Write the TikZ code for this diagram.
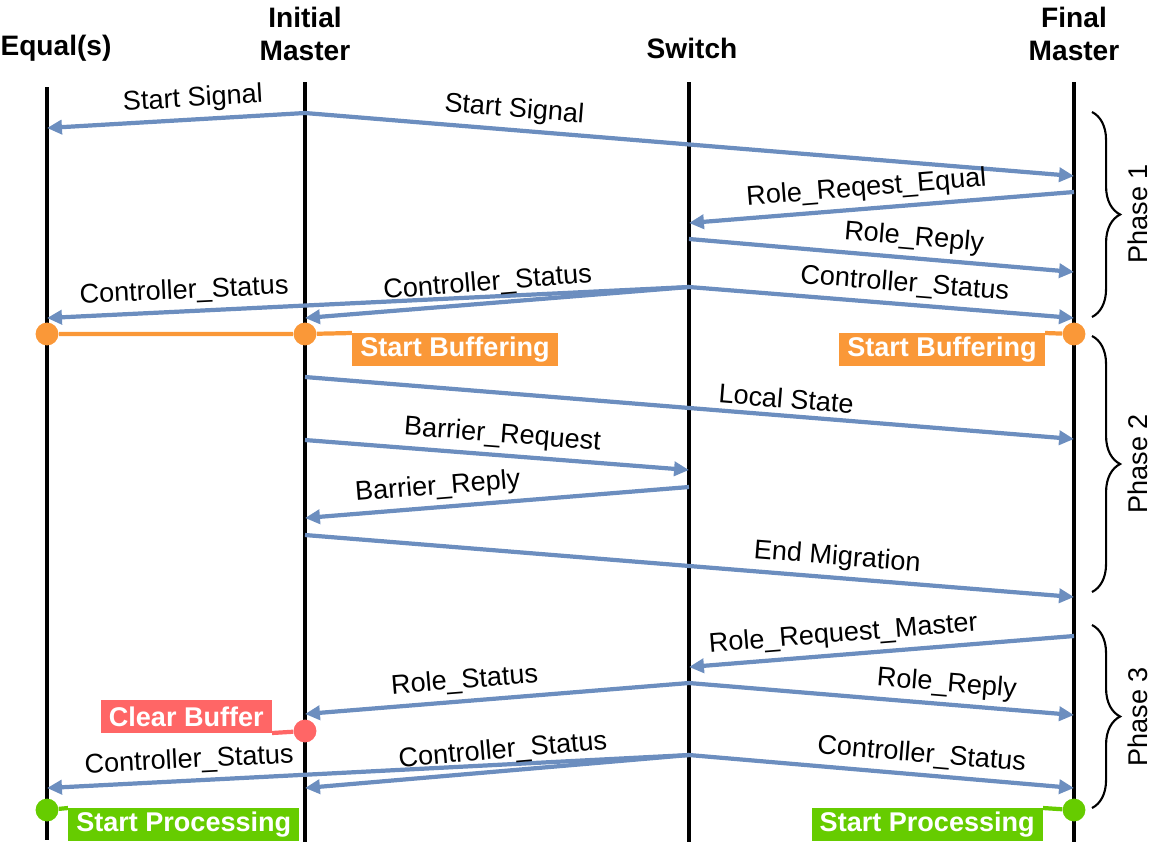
\documentclass[tikz,border=0pt]{standalone}
\usepackage{fontspec}
\setmainfont{Liberation Sans}
\usetikzlibrary{arrows.meta,decorations.pathreplacing,positioning}

\definecolor{msgblue}{RGB}{108,142,191}
\definecolor{bufor}{RGB}{250,152,56}
\definecolor{clrred}{RGB}{255,102,102}
\definecolor{procgr}{RGB}{102,204,0}

\begin{document}
\begin{tikzpicture}[x={(0.02cm,0)},y={(0,-0.02cm)},
    head/.style={font=\fontsize{16}{18.7}\selectfont\bfseries,align=center},
    life/.style={line width=2.3pt},
    msg/.style={draw=msgblue,line width=2.4pt,-{Triangle[length=8.5pt,width=8pt]}},
    lbl/.style={font=\fontsize{15.4}{18}\selectfont,sloped,above,inner sep=3pt},
    tag/.style={font=\fontsize{15.4}{18}\selectfont\bfseries,text=white,inner xsep=4.5pt,inner ysep=0pt,minimum height=18.5pt},
    dot/.style={circle,inner sep=0pt,minimum size=13pt},
    link/.style={line width=2.4pt},
    phase/.style={decorate,decoration={brace,amplitude=16pt},line width=1.2pt},
    phaselbl/.style={font=\fontsize{15.4}{18}\selectfont,rotate=90}]
  \useasboundingbox (0,0) rectangle (1158,853);

  % headers and lifelines
  \node[head] (eq) at (56,48) {Equal(s)};
  \node[head] (im) at (305,34) {Initial\\Master};
  \node[head] (sw) at (692,48) {Switch};
  \node[head] (fm) at (1074,34) {Final\\Master};
  \coordinate (eqT) at (47,87);    \coordinate (eqB) at (47,840);
  \coordinate (imT) at (305,82);   \coordinate (imB) at (305,842);
  \coordinate (swT) at (689,82);   \coordinate (swB) at (689,842);
  \coordinate (fmT) at (1074,82);  \coordinate (fmB) at (1074,842);
  \foreach \l in {eq,im,sw,fm}
    \draw[life] (\l T) -- (\l B);

  % phase 1
  \coordinate (ss) at (305,113);
  \coordinate (ssE) at (47,128);
  \coordinate (ssF) at (1074,176);
  \coordinate (rqF) at (1074,192);
  \coordinate (rqS) at (689,223);
  \coordinate (rpS) at (689,239);
  \coordinate (rpF) at (1074,272);
  \coordinate (csS) at (689,287);
  \coordinate (csE) at (47,318);
  \coordinate (csI) at (305,318);
  \coordinate (csF) at (1074,318);
  \draw[msg] (ss) -- node[lbl,pos=.43] {Start Signal} (ssE);
  \draw[msg] (ss) -- node[lbl,pos=.27] {Start Signal} (ssF);
  \draw[msg] (rqF) -- node[lbl,pos=.535] {Role\_Reqest\_Equal} (rqS);
  \draw[msg] (rpS) -- node[lbl,pos=.58] {Role\_Reply} (rpF);
  \draw[msg] (csS) -- node[lbl,pos=.785] {Controller\_Status} (csE);
  \draw[msg] (csS) -- node[lbl,pos=.52] {Controller\_Status} (csI);
  \draw[msg] (csS) -- node[lbl,pos=.556] {Controller\_Status} (csF);

  % phase 2
  \coordinate (lsI) at (305,377);
  \coordinate (lsF) at (1074,439);
  \coordinate (brI) at (305,440);
  \coordinate (brS) at (689,470);
  \coordinate (byS) at (689,487);
  \coordinate (byI) at (305,518);
  \coordinate (emI) at (305,535);
  \coordinate (emF) at (1074,597);
  \draw[msg] (lsI) -- node[lbl,pos=.624] {Local State} (lsF);
  \draw[msg] (brI) -- node[lbl,pos=.51] {Barrier\_Request} (brS);
  \draw[msg] (byS) -- node[lbl,pos=.65] {Barrier\_Reply} (byI);
  \draw[msg] (emI) -- node[lbl,pos=.69] {End Migration} (emF);

  % phase 3
  \coordinate (rmF) at (1074,636);
  \coordinate (rmS) at (689,667);
  \coordinate (rsS) at (689,683);
  \coordinate (rsI) at (305,714);
  \coordinate (rsF) at (1074,715);
  \coordinate (c3S) at (689,755);
  \coordinate (c3E) at (47,788);
  \coordinate (c3I) at (305,788);
  \coordinate (c3F) at (1074,788);
  \draw[msg] (rmF) -- node[lbl,pos=.595] {Role\_Request\_Master} (rmS);
  \draw[msg] (rsS) -- node[lbl,pos=.58] {Role\_Status} (rsI);
  \draw[msg] (rsS) -- node[lbl,pos=.665] {Role\_Reply} (rsF);
  \draw[msg] (c3S) -- node[lbl,pos=.777] {Controller\_Status} (c3E);
  \draw[msg] (c3S) -- node[lbl,pos=.48] {Controller\_Status} (c3I);
  \draw[msg] (c3S) -- node[lbl,pos=.6] {Controller\_Status} (c3F);

  % buffering, clearing, processing
  \node[dot,fill=bufor] (bE) at (47,334) {};
  \node[dot,fill=bufor] (bI) at (305,334) {};
  \node[dot,fill=bufor] (bF) at (1074,334) {};
  \node[tag,fill=bufor,anchor=north west] (bufI) at (352,333) {Start Buffering};
  \node[tag,fill=bufor,anchor=north east] (bufF) at (1045,333) {Start Buffering};
  \draw[link,bufor] (bE) -- (bI) -- (bufI.north west);
  \draw[link,bufor] (bufF.north east) -- (bF);

  \node[dot,fill=clrred] (cb) at (305,731) {};
  \node[tag,fill=clrred,anchor=south east] (clr) at (272,733) {Clear Buffer};
  \draw[link,clrred] (clr.south east) -- (cb);

  \node[dot,fill=procgr] (pE) at (47,810) {};
  \node[dot,fill=procgr] (pF) at (1074,810) {};
  \node[tag,fill=procgr,anchor=north west] (procE) at (68,808) {Start Processing};
  \node[tag,fill=procgr,anchor=north east] (procF) at (1043,808) {Start Processing};
  \draw[link,procgr] (pE) -- (procE.north west);
  \draw[link,procgr] (procF.north east) -- (pF);

  % phases
  \draw[phase] (1092,112) -- (1092,317);
  \draw[phase] (1092,336) -- (1092,592);
  \draw[phase] (1092,625) -- (1092,808);
  \node[phaselbl] (ph1) at (1138,214) {Phase 1};
  \node[phaselbl] (ph2) at (1138,464) {Phase 2};
  \node[phaselbl] (ph3) at (1138,717) {Phase 3};
\end{tikzpicture}
\end{document}
